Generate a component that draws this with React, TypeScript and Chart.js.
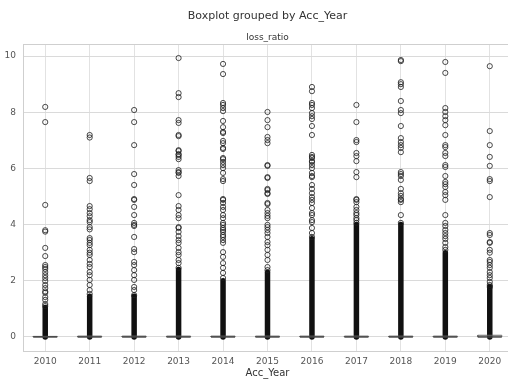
import React, { useEffect, useRef } from "react";
import { Chart, registerables } from "chart.js";

Chart.register(...registerables);

const years = ["2010", "2011", "2012", "2013", "2014", "2015", "2016", "2017", "2018", "2019", "2020"];
const yTicks = [0, 2, 4, 6, 8, 10];

// box statistics (all boxes are nearly flat at zero)
const q1 = [0, 0, 0, 0, 0, 0, 0, 0, 0, 0, 0];
const median = [0, 0, 0, 0, 0, 0, 0, 0, 0, 0, 0];
const q3 = [0.02, 0.03, 0.03, 0.03, 0.03, 0.03, 0.03, 0.03, 0.03, 0.03, 0.06];

// upper end of the region where fliers overlap into a solid column
const denseTop = [1.05, 1.45, 1.45, 2.4, 2.0, 2.3, 3.5, 4.0, 4.0, 3.0, 1.8];

const out2010 = [8.19, 7.65, 4.7, 3.8, 3.75, 3.17, 2.88, 2.56, 2.49, 2.42, 2.31, 2.2, 2.1, 1.99, 1.85, 1.74, 1.62, 1.57, 1.42, 1.32, 1.17, 1.1];
const out2011 = [7.19, 7.1, 5.66, 5.55, 4.66, 4.55, 4.41, 4.3, 4.16, 4.09, 3.91, 3.83, 3.52, 3.45, 3.35, 3.27, 3.1, 3.0, 2.92, 2.74, 2.6, 2.49, 2.31, 2.2, 2.03, 1.85, 1.67, 1.53];
const out2012 = [8.08, 7.65, 6.83, 5.8, 5.41, 4.91, 4.88, 4.63, 4.34, 4.06, 3.99, 3.95, 3.56, 3.13, 3.02, 2.67, 2.56, 2.38, 2.2, 2.03, 1.78, 1.67, 1.49];
const out2013 = [9.93, 8.68, 8.54, 7.72, 7.62, 7.19, 7.15, 6.65, 6.62, 6.51, 6.48, 6.41, 6.33, 5.94, 5.87, 5.84, 5.73, 5.05, 4.66, 4.52, 4.34, 4.23, 3.91, 3.88, 3.74, 3.59, 3.45, 3.35, 3.17, 3.02, 2.92, 2.74, 2.63, 2.46];
const out2014 = [9.72, 9.36, 8.33, 8.26, 8.15, 8.04, 7.69, 7.47, 7.3, 7.26, 6.98, 6.9, 6.73, 6.69, 6.37, 6.33, 6.23, 6.12, 6.01, 5.84, 5.62, 5.55, 4.91, 4.88, 4.77, 4.63, 4.52, 4.34, 4.23, 4.06, 3.99, 3.88, 3.81, 3.74, 3.63, 3.56, 3.45, 3.35, 3.02, 2.85, 2.63, 2.46, 2.28, 2.1];
const out2015 = [8.01, 7.72, 7.47, 7.12, 7.01, 6.9, 6.12, 6.09, 5.69, 5.66, 5.27, 5.23, 5.12, 5.09, 4.77, 4.73, 4.52, 4.41, 4.31, 4.23, 3.99, 3.91, 3.81, 3.7, 3.56, 3.38, 3.27, 3.1, 2.92, 2.74, 2.49, 2.38];
const out2016 = [8.9, 8.75, 8.33, 8.26, 8.15, 7.97, 7.86, 7.76, 7.51, 7.19, 6.48, 6.41, 6.37, 6.26, 6.23, 6.12, 6.01, 5.84, 5.73, 5.69, 5.41, 5.27, 5.12, 4.98, 4.88, 4.77, 4.59, 4.41, 4.34, 4.16, 4.09, 3.88, 3.7, 3.56];
const out2017 = [8.26, 7.65, 7.01, 6.94, 6.55, 6.44, 6.26, 5.87, 5.69, 4.91, 4.88, 4.8, 4.63, 4.52, 4.41, 4.34, 4.23, 4.16, 4.06];
const out2018 = [9.86, 9.82, 9.07, 9.0, 8.9, 8.4, 8.08, 7.97, 7.51, 7.08, 6.94, 6.83, 6.73, 6.58, 5.87, 5.8, 5.73, 5.59, 5.27, 5.12, 5.02, 4.91, 4.88, 4.8, 4.34, 4.06];
const out2019 = [9.79, 9.4, 8.15, 8.01, 7.86, 7.72, 7.54, 7.19, 6.83, 6.76, 6.55, 6.44, 6.12, 6.05, 5.73, 5.52, 5.44, 5.34, 5.16, 5.05, 4.88, 4.34, 4.06, 3.95, 3.81, 3.7, 3.59, 3.49, 3.35, 3.2, 3.1];
const out2020 = [9.64, 7.33, 6.83, 6.41, 6.09, 5.62, 5.55, 4.98, 3.7, 3.63, 3.38, 3.35, 3.1, 3.0, 2.74, 2.67, 2.56, 2.46, 2.31, 2.2, 2.1, 1.96, 1.85, 1.78];

const outliers = [out2010, out2011, out2012, out2013, out2014, out2015, out2016, out2017, out2018, out2019, out2020];

const FONT = "'DejaVu Sans', sans-serif";
const HALF_BOX = 0.27;

const framePlugin = {
  id: "frame",
  beforeDatasetsDraw(chart: any) {
    const { ctx, chartArea } = chart;
    ctx.save();
    ctx.strokeStyle = "#cfcfcf";
    ctx.lineWidth = 1;
    ctx.strokeRect(chartArea.left + 0.5, chartArea.top + 0.5, chartArea.right - chartArea.left, chartArea.bottom - chartArea.top);
    ctx.restore();
  },
};

export default function App() {
  const ref = useRef<HTMLCanvasElement | null>(null);

  useEffect(() => {
    if (!ref.current) return;
    document.body.style.overflow = "hidden";

    const columnSets = years.map((_, i) => ({
      data: [
        { x: i + 1, y: 0 },
        { x: i + 1, y: denseTop[i] },
      ],
      showLine: true,
      borderColor: "#111111",
      borderWidth: 5.5,
      borderCapStyle: "round",
      pointRadius: 0,
      order: 3,
    }));

    const boxSets = years.map((_, i) => ({
      data: [
        { x: i + 1 - HALF_BOX, y: q1[i] },
        { x: i + 1 + HALF_BOX, y: q1[i] },
        { x: i + 1 + HALF_BOX, y: q3[i] },
        { x: i + 1 - HALF_BOX, y: q3[i] },
        { x: i + 1 - HALF_BOX, y: q1[i] },
      ],
      showLine: true,
      borderColor: "#666666",
      borderWidth: 1,
      pointRadius: 0,
      order: 2,
    }));

    const medianSets = years.map((_, i) => ({
      data: [
        { x: i + 1 - HALF_BOX, y: median[i] },
        { x: i + 1 + HALF_BOX, y: median[i] },
      ],
      showLine: true,
      borderColor: "#333333",
      borderWidth: 1,
      pointRadius: 0,
      order: 1,
    }));

    const flierSet = {
      data: years.flatMap((_, i) => outliers[i].map((v) => ({ x: i + 1, y: v }))),
      pointStyle: "circle",
      pointRadius: 2.6,
      pointBorderWidth: 1,
      pointBorderColor: "rgba(30,30,30,0.8)",
      pointBackgroundColor: "rgba(0,0,0,0)",
      showLine: false,
      order: 0,
    };

    const chart = new Chart(ref.current, {
      type: "scatter",
      data: { datasets: [flierSet, ...medianSets, ...boxSets, ...columnSets] as any },
      options: {
        animation: false,
        responsive: false,
        events: [],
        layout: { padding: { left: 0, right: 8, top: 0, bottom: 0 } },
        plugins: {
          legend: { display: false },
          tooltip: { enabled: false },
          title: {
            display: true,
            fullSize: false,
            text: "Boxplot grouped by Acc_Year",
            color: "#333333",
            font: { family: FONT, size: 11, weight: "normal" },
            padding: { top: 10, bottom: 5 },
          },
          subtitle: {
            display: true,
            fullSize: false,
            text: "loss_ratio",
            color: "#333333",
            font: { family: FONT, size: 9, weight: "normal" },
            padding: { top: 4, bottom: 1 },
          },
        },
        scales: {
          x: {
            type: "linear",
            min: 0.5,
            max: 11.5,
            afterBuildTicks: (s: any) => {
              s.ticks = years.map((_, i) => ({ value: i + 1 }));
            },
            afterFit: (s: any) => {
              s.height = 29;
            },
            ticks: {
              autoSkip: false,
              maxRotation: 0,
              padding: 5,
              color: "#555555",
              font: { family: FONT, size: 9 },
              callback: (v: any) => years[Math.round(v) - 1] ?? "",
            },
            grid: { color: "#e2e2e2", lineWidth: 1, drawTicks: false },
            border: { display: true, color: "#cfcfcf" },
            title: {
              display: true,
              text: "Acc_Year",
              color: "#333333",
              font: { family: FONT, size: 10 },
              padding: { top: 0, bottom: 1 },
            },
          },
          y: {
            type: "linear",
            min: -0.5,
            max: 10.43,
            afterBuildTicks: (s: any) => {
              s.ticks = yTicks.map((v) => ({ value: v }));
            },
            afterFit: (s: any) => {
              s.width = 23;
            },
            ticks: {
              padding: 7,
              color: "#555555",
              font: { family: FONT, size: 9 },
              callback: (v: any) => String(v),
            },
            grid: { color: "#dadada", lineWidth: 1, drawTicks: false },
            border: { display: true, color: "#cfcfcf" },
          },
        },
      },
      plugins: [framePlugin],
    } as any);

    return () => chart.destroy();
  }, []);

  return (
    <div style={{ position: "fixed", left: 0, top: 0, width: 520, height: 380, background: "#ffffff" }}>
      <canvas ref={ref} width={520} height={380} style={{ width: 520, height: 380, display: "block" }} />
    </div>
  );
}
